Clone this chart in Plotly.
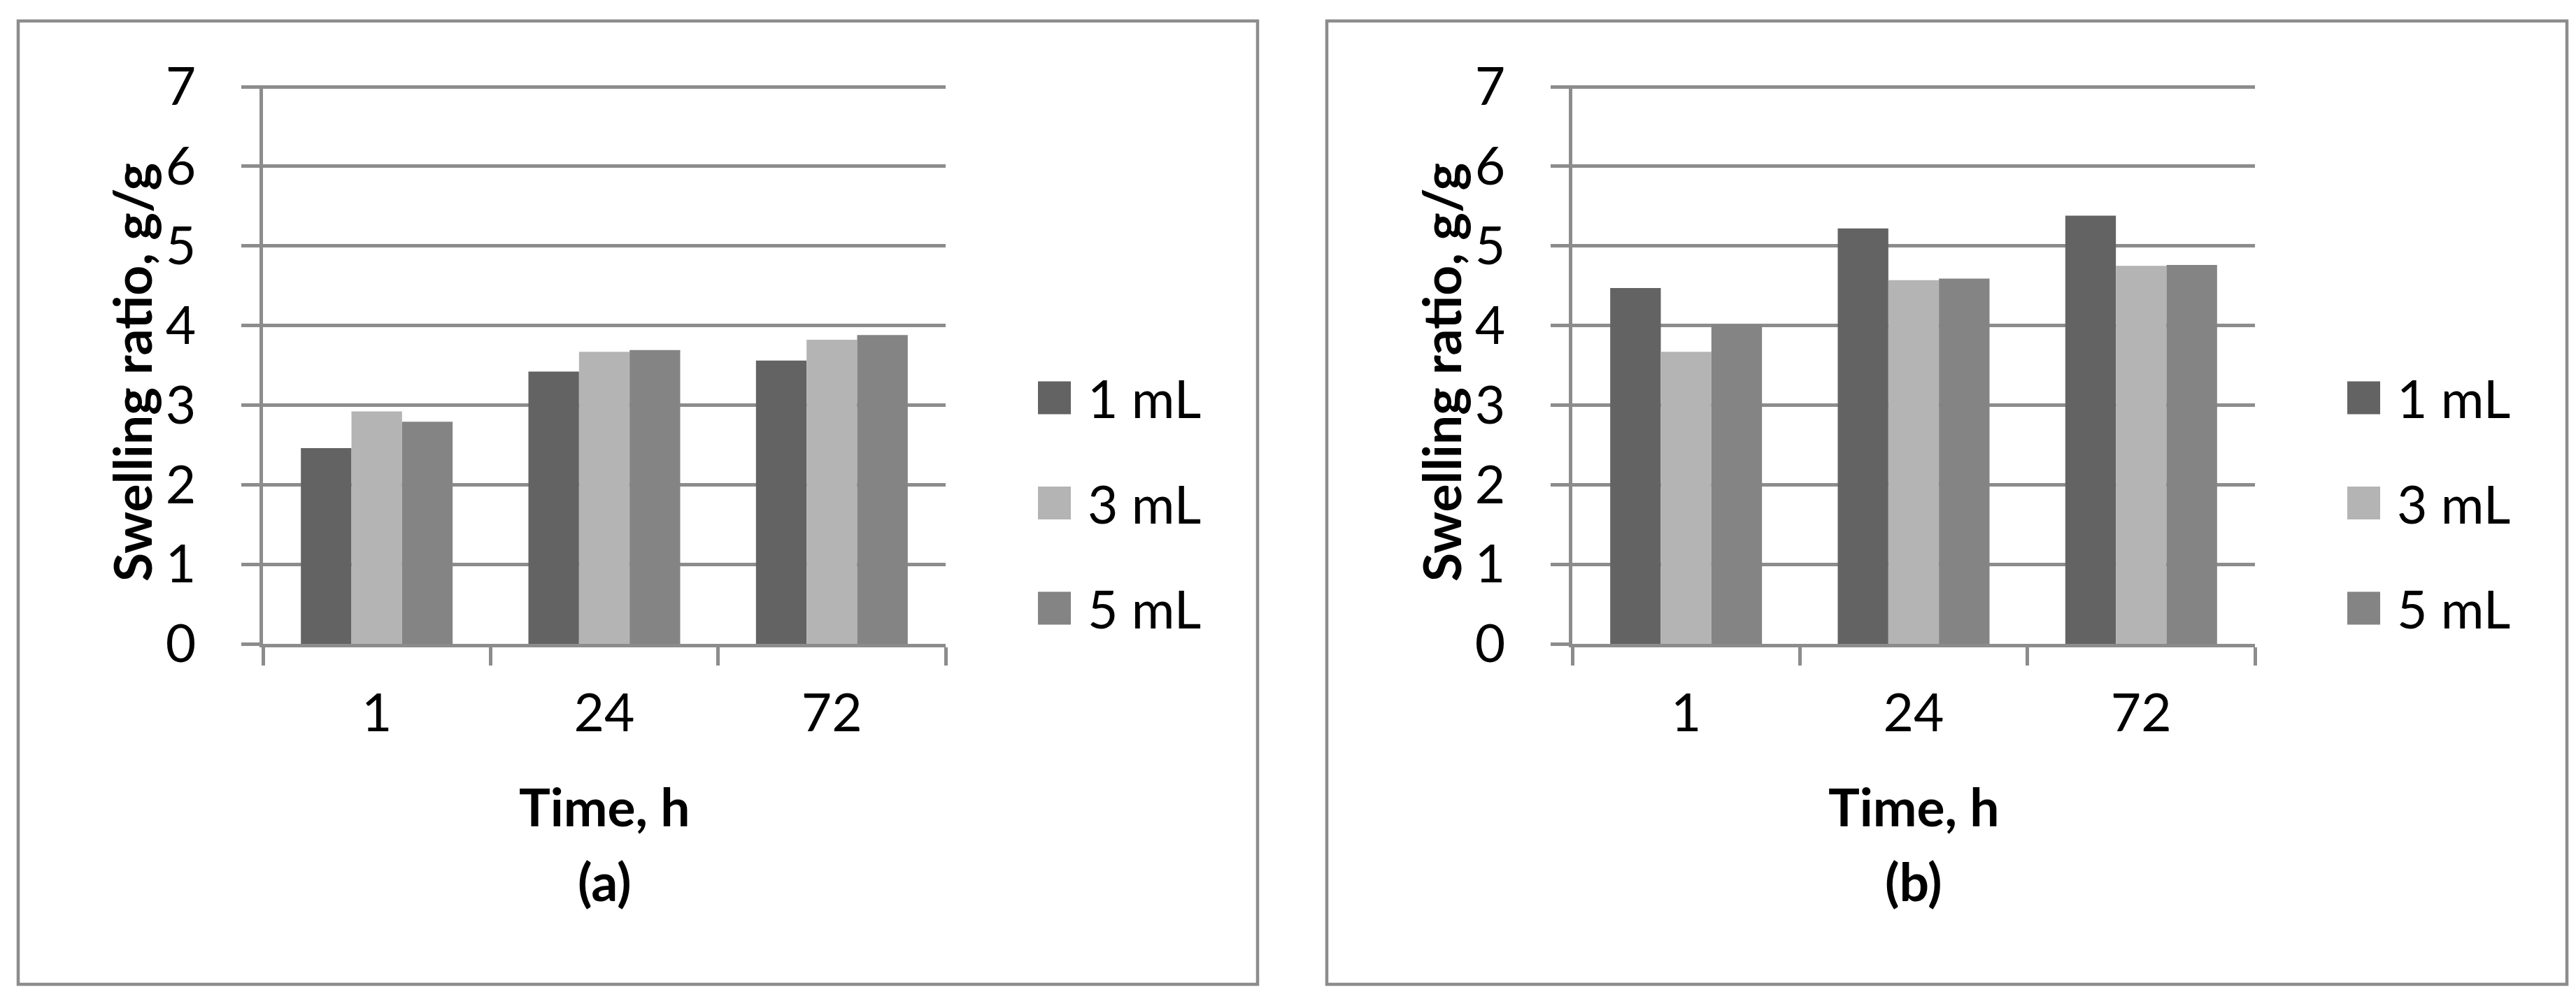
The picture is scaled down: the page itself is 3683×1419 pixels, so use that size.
import plotly.graph_objects as go

# swelling ratio
times = ["1", "24", "72"]
series = ["1 mL", "3 mL", "5 mL"]
colors = ["#636363", "#b4b4b4", "#848484"]

panel_a_1ml = [2.46, 3.42, 3.56]
panel_a_3ml = [2.92, 3.67, 3.82]
panel_a_5ml = [2.79, 3.69, 3.88]

panel_b_1ml = [4.47, 5.22, 5.38]
panel_b_3ml = [3.67, 4.57, 4.75]
panel_b_5ml = [4.01, 4.59, 4.76]

y_ticks = [0, 1, 2, 3, 4, 5, 6, 7]
panel_labels = ["(a)", "(b)"]

W, H = 3683, 1419
GRID = "#8c8c8c"
FONT = "Lato"
FS = 75


def px(x):
    return x / W


def py(y):
    return 1 - y / H


fig = go.Figure()

panels = [
    [panel_a_1ml, panel_a_3ml, panel_a_5ml],
    [panel_b_1ml, panel_b_3ml, panel_b_5ml],
]
for p, vals in enumerate(panels):
    sfx = "" if p == 0 else "2"
    for name, col, v in zip(series, colors, vals):
        fig.add_trace(go.Bar(x=times, y=v, name=name, marker_color=col,
                             marker_line_width=0, showlegend=False,
                             xaxis="x" + sfx, yaxis="y" + sfx))

# plot area positions in pixels (left panel, right panel offset)
offsets = [0, 1872]
plot_l, plot_r = 368, 1344
y0_px, y7_px = 913, 116
ymax = 7.02  # a bit above 7 so the top gridline is drawn
unit = (y0_px - y7_px) / 7
plot_t = y0_px - ymax * unit

layout = dict(
    template="none",
    width=W, height=H,
    margin=dict(l=0, r=0, t=0, b=0, pad=0, autoexpand=False),
    paper_bgcolor="white", plot_bgcolor="white",
    barmode="group", bargap=0.333, bargroupgap=0,
    font=dict(family=FONT, size=FS, color="black"),
    showlegend=False,
)
shapes = []
annotations = []
for p, off in enumerate(offsets):
    sfx = "" if p == 0 else "2"
    layout["xaxis" + sfx] = dict(
        domain=[px(plot_l + off), px(plot_r + off)],
        anchor="y" + sfx, type="category", automargin=False,
        showline=True, linecolor=GRID, linewidth=4.5,
        ticks="outside", tickson="boundaries", ticklen=26, tickwidth=4.5,
        tickcolor=GRID, showgrid=False, zeroline=False,
        tickfont=dict(family=FONT, size=FS, color="black"),
        ticklabelstandoff=30,
    )
    layout["yaxis" + sfx] = dict(
        domain=[py(y0_px), py(plot_t)],
        anchor="x" + sfx, range=[0, ymax], tickvals=y_ticks, automargin=False,
        showline=True, linecolor=GRID, linewidth=4.5,
        showgrid=True, gridcolor=GRID, gridwidth=4.5,
        ticks="outside", ticklen=26, tickwidth=4.5, tickcolor=GRID,
        zeroline=False, tickfont=dict(family=FONT, size=FS, color="black"),
        ticklabelstandoff=50,
    )
    # chart border
    x0 = 18 if p == 0 else 1889
    x1 = 1790 if p == 0 else 3662
    shapes.append(dict(type="rect", xref="paper", yref="paper",
                       x0=px(x0), x1=px(x1), y0=py(1400), y1=py(22),
                       fillcolor="rgba(0,0,0,0)",
                       line=dict(color=GRID, width=4.5), layer="below"))
    cx = (plot_l + plot_r) / 2 + off
    annotations.append(dict(text="<b>Time, h</b>", x=px(cx), y=py(1145),
                            xref="paper", yref="paper", showarrow=False,
                            xanchor="center", yanchor="middle"))
    annotations.append(dict(text="<b>" + panel_labels[p] + "</b>", x=px(cx), y=py(1252),
                            xref="paper", yref="paper", showarrow=False,
                            xanchor="center", yanchor="middle"))
    annotations.append(dict(text="<b>Swelling ratio, g/g</b>", x=px(180 + off),
                            y=py(525), xref="paper", yref="paper",
                            showarrow=False, textangle=-90,
                            xanchor="center", yanchor="middle"))
    # legend
    for i, (name, col) in enumerate(zip(series, colors)):
        yc = 561 + i * 150.5
        shapes.append(dict(type="rect", xref="paper", yref="paper",
                           x0=px(1476 + off), x1=px(1523 + off),
                           y0=py(yc + 23.5), y1=py(yc - 23.5),
                           fillcolor=col, line=dict(width=0)))
        annotations.append(dict(text=name, x=px(1545 + off), y=py(yc),
                                xref="paper", yref="paper", showarrow=False,
                                xanchor="left", yanchor="middle"))

layout["shapes"] = shapes
layout["annotations"] = annotations
fig.update_layout(**layout)

fig.write_html("out.html")
